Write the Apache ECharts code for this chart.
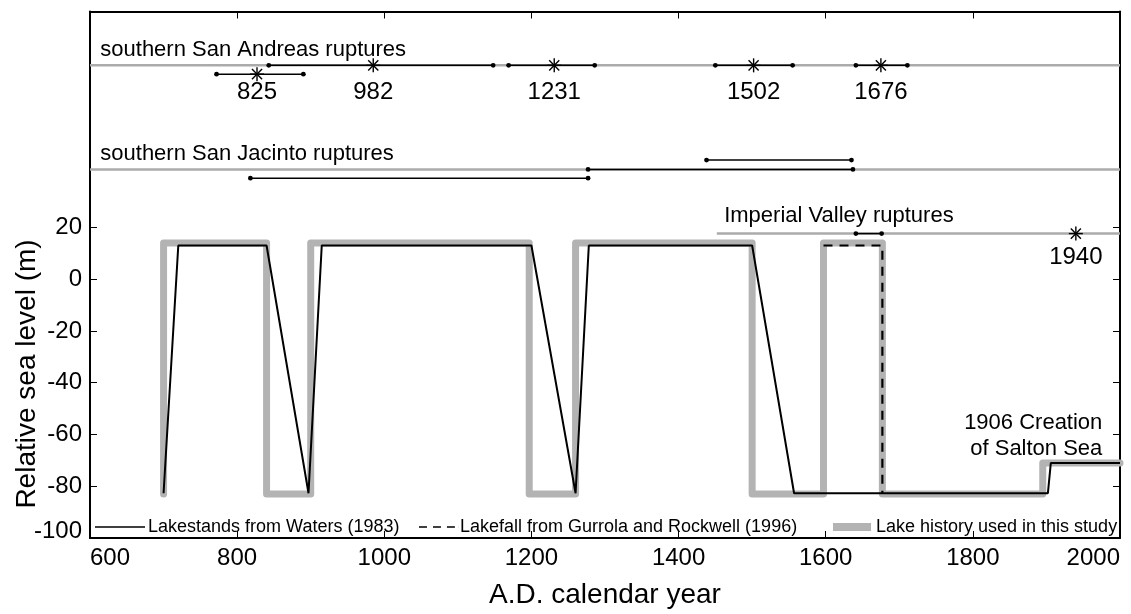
<!DOCTYPE html>
<html><head><meta charset="utf-8">
<script src="https://cdn.jsdelivr.net/npm/echarts@6/dist/echarts.min.js"></script>
<style>html,body{margin:0;padding:0;background:#fff}#c{width:1131px;height:614px}</style>
</head><body><div id="c"></div>
<script>
// ---- data ----
const yTickValues = [-100, -80, -60, -40, -20, 0, 20];
// Lake history used in this study (gray)
const studyYears  = [700, 700, 840, 840, 900, 900, 1197, 1197, 1260, 1260, 1500, 1500, 1597, 1597, 1677, 1677, 1895, 1895, 2000];
const studyLevels = [-83, 14, 14, -83, -83, 14, 14, -83, -83, 14, 14, -83, -83, 14, 14, -83, -83, -71, -71];
// Lakestands from Waters (1983)
const watersYears  = [700, 720, 840, 897, 915, 1200, 1260, 1278, 1500, 1557, 1902, 1906, 2000];
const watersLevels = [-82.7, 13, 13, -82.7, 13, 13, -82.7, 13, 13, -82.7, -82.7, -71, -71];
// Lakefall from Gurrola and Rockwell (1996)
const gurrolaYears  = [1597, 1677, 1677];
const gurrolaLevels = [13, 13, -82.7];

// rupture rows (plotted in the upper part of the axis, in axis units)
const rowNames  = ['southern San Andreas ruptures', 'southern San Jacinto ruptures', 'Imperial Valley ruptures'];
const rowLevels = [82.6, 42.4, 17.6];
const rowStart  = [600, 600, 1452];
// southern San Andreas
const saYears      = [825, 982, 1231, 1502, 1676];
const saStarYears  = [827, 985, 1231, 1502, 1675];
const saLow        = [772, 843, 1169, 1450, 1641];
const saHigh       = [890, 1148, 1286, 1555, 1711];
const saLevels     = [79.2, 82.6, 82.6, 82.6, 82.6];
// southern San Jacinto (intervals only)
const sjLow    = [818, 1277, 1438];
const sjHigh   = [1277, 1637, 1635];
const sjLevels = [39, 42.4, 46];
// Imperial Valley
const ivLow    = [1641];
const ivHigh   = [1676];
const ivLevels = [17.6];
const ivYears  = [1940];
const ivStarYears = [1940];
const seaNote = ['1906 Creation', 'of Salton Sea'];

// ---- helpers ----
const zip = (a, b) => a.map((v, i) => [v, b[i]]);

function intervalItem(params, api) {
  const p1 = api.coord([api.value(0), api.value(2)]);
  const p2 = api.coord([api.value(1), api.value(2)]);
  return {type: 'group', children: [
    {type: 'line', shape: {x1: p1[0], y1: p1[1], x2: p2[0], y2: p2[1]}, style: {stroke: '#000', lineWidth: 1.5}},
    {type: 'circle', shape: {cx: p1[0], cy: p1[1], r: 2.4}, style: {fill: '#000'}},
    {type: 'circle', shape: {cx: p2[0], cy: p2[1], r: 2.4}, style: {fill: '#000'}}
  ]};
}
function starItem(params, api) {
  const p = api.coord([api.value(0), api.value(1)]);
  const r = 7, d = r * 0.72;
  const st = {stroke: '#000', lineWidth: 1.4};
  return {type: 'group', children: [
    {type: 'line', shape: {x1: p[0], y1: p[1] - r, x2: p[0], y2: p[1] + r}, style: st},
    {type: 'line', shape: {x1: p[0] - r, y1: p[1], x2: p[0] + r, y2: p[1]}, style: st},
    {type: 'line', shape: {x1: p[0] - d, y1: p[1] - d, x2: p[0] + d, y2: p[1] + d}, style: st},
    {type: 'line', shape: {x1: p[0] - d, y1: p[1] + d, x2: p[0] + d, y2: p[1] - d}, style: st}
  ]};
}
const FONT = 'Liberation Sans, Arial, sans-serif';
function textSeries(points, opts) {
  return {
    type: 'scatter', symbolSize: 0, silent: true, z: 20,
    itemStyle: {opacity: 1, color: '#000'},
    data: points.map(p => ({value: [p[0], p[1]], label: {formatter: p[2]}})),
    label: Object.assign({show: true, color: '#000', opacity: 1, textBorderWidth: 0,
                          fontFamily: FONT, position: 'inside'}, opts)
  };
}

const chart = echarts.init(document.getElementById('c'), null, {renderer: 'canvas'});
const axisLineStyle = {color: '#000', width: 2};
const option = {
  animation: false,
  backgroundColor: '#fff',
  grid: {left: 90, right: 11, top: 11.5, bottom: 70.5, show: false},
  xAxis: [
    {type: 'value', min: 600, max: 2000, interval: 200, position: 'bottom',
     axisLine: {show: true, onZero: false, lineStyle: axisLineStyle},
     axisTick: {show: true, inside: true, length: 7, lineStyle: {color: '#000', width: 1}},
     axisLabel: {show: true, fontSize: 24, color: '#000', fontFamily: FONT, margin: 8,
                 formatter: v => String(v),
                 alignMinLabel: 'left', alignMaxLabel: 'right'},
     splitLine: {show: false},
     name: 'A.D. calendar year', nameLocation: 'middle', nameGap: 43,
     nameTextStyle: {fontSize: 28, color: '#000', fontFamily: FONT}},
    {type: 'value', min: 600, max: 2000, interval: 200, position: 'top',
     axisLine: {show: true, onZero: false, lineStyle: axisLineStyle},
     axisTick: {show: true, inside: true, length: 7, lineStyle: {color: '#000', width: 1}},
     axisLabel: {show: false}, splitLine: {show: false}}
  ],
  yAxis: [
    {type: 'value', min: -100, max: 103.4, position: 'left',
     axisLine: {show: true, onZero: false, lineStyle: axisLineStyle},
     axisTick: {show: true, inside: true, length: 7, customValues: yTickValues, lineStyle: {color: '#000', width: 1}},
     axisLabel: {show: true, customValues: yTickValues, fontSize: 24, color: '#000', fontFamily: FONT, margin: 8,
                 formatter: v => v === -100 ? '{b|' + v + '}' : String(v),
                 rich: {b: {fontSize: 24, fontFamily: FONT, color: '#000', padding: [0, 0, 14, 0]}}},
     splitLine: {show: false}},
    {type: 'value', min: -100, max: 103.4, position: 'right',
     axisLine: {show: true, onZero: false, lineStyle: axisLineStyle},
     axisTick: {show: true, inside: true, length: 7, customValues: yTickValues, lineStyle: {color: '#000', width: 1}},
     axisLabel: {show: false}, splitLine: {show: false}}
  ],
  graphic: [{
    type: 'text', x: 27, y: 374, rotation: Math.PI / 2,
    style: {text: 'Relative sea level (m)', font: '28px ' + FONT, fill: '#000', align: 'center', verticalAlign: 'middle'}
  }],
  legend: [
    {left: 90, bottom: 73, itemWidth: 50, itemHeight: 10, itemGap: 0, data: ['Lakestands from Waters (1983)'],
     textStyle: {fontSize: 18, fontFamily: FONT, color: '#000', padding: [0, 0, 0, -2]}, icon: 'path://M0,4.2 H50 V5.8 H0 Z', itemStyle: {color: '#000'}},
    {left: 414, bottom: 73, itemWidth: 40, itemHeight: 10, data: ['Lakefall from Gurrola and Rockwell (1996)'],
     textStyle: {fontSize: 18, fontFamily: FONT, color: '#000', padding: [0, 0, 0, -4]},
     icon: 'path://M0,4.2 H8 V5.8 H0 Z M14,4.2 H22 V5.8 H14 Z M28,4.2 H36 V5.8 H28 Z M40,4.2 H40.1 V5.8 H40 Z', itemStyle: {color: '#000'}},
    {left: 828, bottom: 73, itemWidth: 38, itemHeight: 8, data: ['Lake history used in this study'],
     textStyle: {fontSize: 18, fontFamily: FONT, color: '#000'}, icon: 'rect', itemStyle: {color: '#b3b3b3'}}
  ],
  series: [
    // rupture baselines
    {type: 'line', name: 'row0', data: [[rowStart[0], rowLevels[0]], [2000, rowLevels[0]]], symbol: 'none', silent: true,
     lineStyle: {color: '#ababab', width: 2.5}, z: 2},
    {type: 'line', name: 'row1', data: [[rowStart[1], rowLevels[1]], [2000, rowLevels[1]]], symbol: 'none', silent: true,
     lineStyle: {color: '#ababab', width: 2.5}, z: 2},
    {type: 'line', name: 'row2', data: [[rowStart[2], rowLevels[2]], [2000, rowLevels[2]]], symbol: 'none', silent: true,
     lineStyle: {color: '#ababab', width: 2.5}, z: 2},
    // lake history used in this study
    {type: 'line', name: 'Lake history used in this study', data: zip(studyYears, studyLevels), symbol: 'none',
     lineStyle: {color: '#b3b3b3', width: 7, join: 'round', cap: 'round'}, itemStyle: {color: '#b3b3b3'}, z: 3},
    {type: 'line', name: 'Lakestands from Waters (1983)', data: zip(watersYears, watersLevels), symbol: 'none',
     lineStyle: {color: '#000', width: 2}, itemStyle: {color: '#000'}, z: 5},
    {type: 'line', name: 'Lakefall from Gurrola and Rockwell (1996)', data: zip(gurrolaYears, gurrolaLevels), symbol: 'none',
     lineStyle: {color: '#000', width: 2.2, type: [9, 7]}, itemStyle: {color: '#000'}, z: 6},
    // intervals
    {type: 'custom', renderItem: intervalItem, z: 8, silent: true,
     data: saLow.map((v, i) => [v, saHigh[i], saLevels[i]])
       .concat(sjLow.map((v, i) => [v, sjHigh[i], sjLevels[i]]))
       .concat(ivLow.map((v, i) => [v, ivHigh[i], ivLevels[i]]))},
    // stars
    {type: 'custom', renderItem: starItem, z: 9, silent: true,
     data: zip(saStarYears, saLevels).concat(zip(ivStarYears, [rowLevels[2]]))},
    // texts
    textSeries(saStarYears.map((v, i) => [v, 72.3, String(saYears[i])]), {fontSize: 24}),
    textSeries([[ivStarYears[0], 8.6, String(ivYears[0])]], {fontSize: 24}),
    textSeries([[614, 88.6, rowNames[0]], [614, 48.4, rowNames[1]]], {fontSize: 22, align: 'left'}),
    textSeries([[1462, 24.5, rowNames[2]]], {fontSize: 22, align: 'left'}),
    textSeries([[1976, -55.4, seaNote[0]], [1976, -65.4, seaNote[1]]], {fontSize: 22, align: 'right'})
  ]
};
chart.setOption(option);
</script>
</body></html>
